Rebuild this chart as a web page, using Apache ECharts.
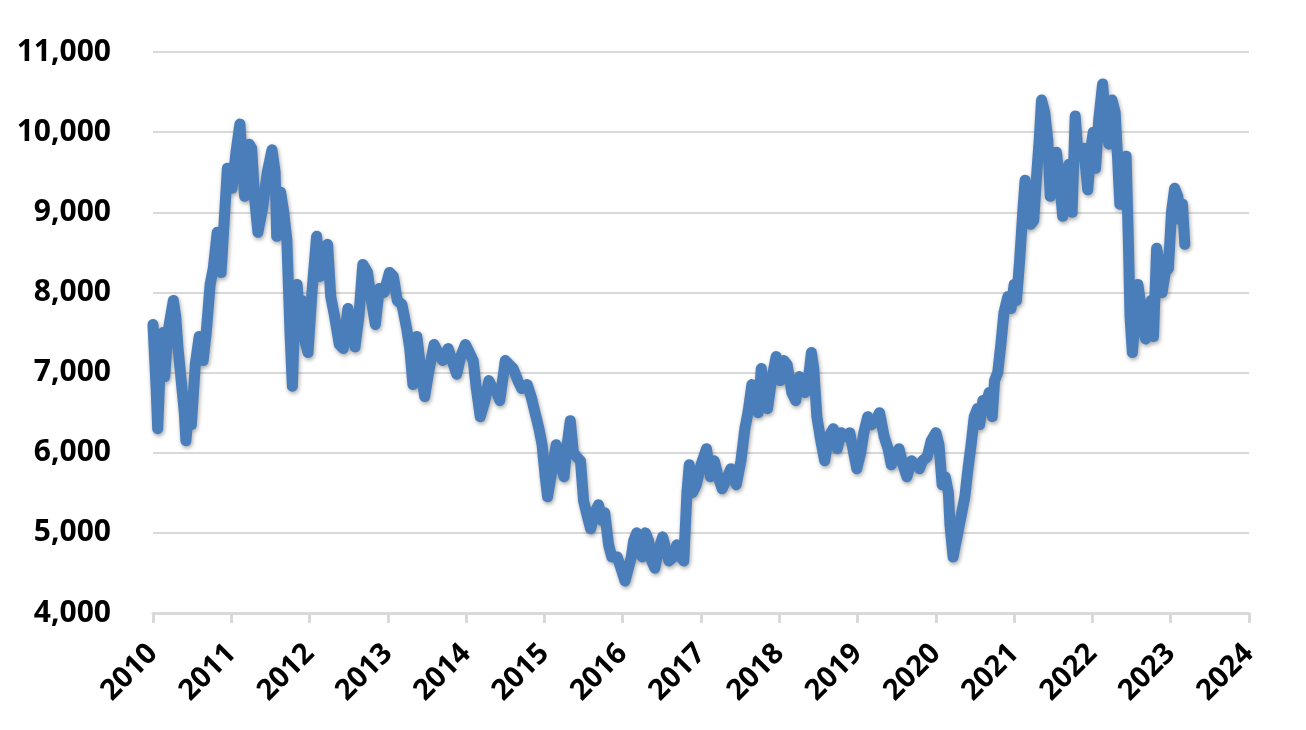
<!DOCTYPE html>
<html>
<head>
<meta charset="utf-8">
<script src="https://cdn.jsdelivr.net/npm/echarts@6/dist/echarts.min.js"></script>
<style>
html,body{margin:0;padding:0;background:#fff;}
#chart{width:1306px;height:730px;}
</style>
</head>
<body>
<div id="chart"></div>
<script>
// [decimal year, price]
const prices2010_2011 = [
[2010.00,7600],[2010.04,6800],[2010.06,6300],[2010.10,7300],[2010.13,7500],[2010.15,6950],[2010.19,7500],[2010.26,7900],[2010.29,7700],[2010.32,7300],[2010.36,6900],[2010.40,6500],[2010.42,6150],[2010.46,6600],[2010.49,6350],[2010.54,7100],[2010.59,7450],[2010.64,7150],[2010.68,7500],[2010.73,8100],[2010.77,8300],[2010.82,8750],[2010.87,8250],[2010.91,8900],[2010.95,9550],
[2011.01,9300],[2011.06,9750],[2011.11,10100],[2011.17,9200],[2011.23,9850],[2011.26,9800],[2011.30,9150],[2011.34,8750],[2011.40,9050],[2011.46,9500],[2011.52,9780],[2011.56,9500],[2011.58,8700],[2011.63,9250],[2011.67,9000],[2011.71,8650],[2011.75,7500],[2011.78,6830],[2011.81,7700],[2011.84,8100],[2011.88,7600],[2011.90,7900],[2011.94,7400],[2011.98,7250]
];
const prices2012_2013 = [
[2012.03,8000],[2012.09,8700],[2012.13,8200],[2012.18,8550],[2012.23,8600],[2012.27,7950],[2012.32,7700],[2012.38,7350],[2012.43,7300],[2012.49,7800],[2012.54,7600],[2012.58,7320],[2012.63,7700],[2012.68,8350],[2012.74,8250],[2012.79,7900],[2012.84,7600],[2012.89,8050],[2012.95,8000],
[2013.02,8250],[2013.07,8200],[2013.12,7900],[2013.18,7850],[2013.24,7550],[2013.28,7300],[2013.32,6850],[2013.37,7450],[2013.42,7050],[2013.47,6700],[2013.52,7000],[2013.59,7350],[2013.64,7250],[2013.70,7150],[2013.77,7300],[2013.82,7150],[2013.88,6980],[2013.93,7200],[2013.99,7350]
];
const prices2014_2015 = [
[2014.04,7250],[2014.09,7150],[2014.13,6800],[2014.18,6450],[2014.24,6650],[2014.29,6900],[2014.34,6800],[2014.39,6750],[2014.43,6650],[2014.50,7150],[2014.55,7100],[2014.60,7050],[2014.66,6900],[2014.71,6800],[2014.78,6850],[2014.83,6700],[2014.88,6500],[2014.93,6300],[2014.97,6100],
[2015.01,5700],[2015.04,5450],[2015.10,5800],[2015.15,6100],[2015.19,6000],[2015.22,5800],[2015.25,5700],[2015.29,6100],[2015.33,6400],[2015.37,6000],[2015.41,5950],[2015.46,5900],[2015.50,5400],[2015.55,5200],[2015.59,5050],[2015.64,5250],[2015.69,5350],[2015.74,5150],[2015.77,5250],[2015.82,4850],[2015.86,4700],[2015.93,4700],[2015.98,4550]
];
const prices2016_2017 = [
[2016.03,4400],[2016.07,4550],[2016.11,4700],[2016.14,4900],[2016.18,5000],[2016.22,4750],[2016.25,4700],[2016.29,5000],[2016.33,4900],[2016.37,4650],[2016.41,4560],[2016.46,4800],[2016.51,4950],[2016.55,4800],[2016.59,4650],[2016.65,4700],[2016.69,4850],[2016.74,4700],[2016.78,4650],[2016.82,5500],[2016.85,5850],[2016.89,5500],[2016.94,5600],
[2017.00,5850],[2017.07,6050],[2017.12,5700],[2017.17,5900],[2017.22,5700],[2017.27,5550],[2017.34,5700],[2017.38,5800],[2017.45,5600],[2017.51,5900],[2017.56,6300],[2017.60,6500],[2017.65,6850],[2017.69,6600],[2017.73,6500],[2017.77,7050],[2017.81,6650],[2017.85,6550],[2017.90,6900],[2017.96,7200]
];
const prices2018_2019 = [
[2018.01,6900],[2018.06,7150],[2018.10,7100],[2018.16,6750],[2018.21,6650],[2018.26,6950],[2018.33,6750],[2018.37,6900],[2018.41,7250],[2018.44,7050],[2018.48,6450],[2018.53,6150],[2018.58,5900],[2018.63,6200],[2018.69,6300],[2018.74,6050],[2018.79,6250],[2018.85,6200],[2018.90,6250],[2018.95,6000],[2018.99,5800],
[2019.04,6000],[2019.08,6250],[2019.13,6450],[2019.18,6350],[2019.23,6400],[2019.28,6500],[2019.34,6200],[2019.39,6050],[2019.43,5850],[2019.48,5950],[2019.53,6050],[2019.58,5850],[2019.63,5700],[2019.69,5900],[2019.74,5850],[2019.79,5800],[2019.83,5900],[2019.89,5950],[2019.94,6150]
];
const prices2020_2021 = [
[2020.00,6250],[2020.04,6100],[2020.08,5600],[2020.12,5700],[2020.16,5500],[2020.18,5100],[2020.22,4700],[2020.26,4900],[2020.30,5100],[2020.33,5250],[2020.37,5450],[2020.41,5800],[2020.45,6100],[2020.49,6450],[2020.53,6550],[2020.56,6350],[2020.60,6650],[2020.64,6600],[2020.68,6750],[2020.72,6450],[2020.75,6900],[2020.79,7000],[2020.83,7350],[2020.87,7750],[2020.92,7950],[2020.96,7800],
[2021.00,8100],[2021.03,7900],[2021.07,8400],[2021.11,9000],[2021.14,9400],[2021.18,9200],[2021.21,8850],[2021.25,8900],[2021.29,9500],[2021.32,9900],[2021.35,10400],[2021.39,10250],[2021.43,9900],[2021.46,9200],[2021.49,9600],[2021.54,9750],[2021.58,9400],[2021.62,8950],[2021.66,9450],[2021.70,9600],[2021.74,9000],[2021.78,10200],[2021.81,9800],[2021.85,9700],[2021.89,9800],[2021.94,9280],[2021.98,9800]
];
const prices2022_2023 = [
[2022.01,10000],[2022.04,9550],[2022.08,10150],[2022.13,10600],[2022.17,10100],[2022.21,9850],[2022.25,10400],[2022.29,10250],[2022.32,9700],[2022.35,9100],[2022.40,9450],[2022.43,9700],[2022.46,8600],[2022.48,7700],[2022.51,7250],[2022.54,7600],[2022.58,8100],[2022.61,7900],[2022.64,7550],[2022.68,7420],[2022.72,7550],[2022.75,7900],[2022.78,7450],[2022.82,8550],[2022.85,8400],[2022.89,8000],[2022.93,8250],[2022.97,8300],
[2023.01,9000],[2023.05,9300],[2023.09,9200],[2023.13,8900],[2023.15,9100],[2023.18,8600]
];
const yTicks = [4000, 5000, 6000, 7000, 8000, 9000, 10000, 11000];
const xTicks = [2010, 2011, 2012, 2013, 2014, 2015, 2016, 2017, 2018, 2019, 2020, 2021, 2022, 2023, 2024];

const series = [].concat(prices2010_2011, prices2012_2013, prices2014_2015, prices2016_2017, prices2018_2019, prices2020_2021, prices2022_2023);

const chart = echarts.init(document.getElementById('chart'), null, {renderer: 'canvas'});
const font = '"Open Sans", "Liberation Sans", sans-serif';
chart.setOption({
  animation: false,
  backgroundColor: '#ffffff',
  grid: {left: 153, right: 57, top: 52, bottom: 117, containLabel: false},
  xAxis: {
    type: 'value',
    min: xTicks[0], max: xTicks[xTicks.length - 1], interval: 1,
    axisLine: {show: true, lineStyle: {color: '#d9d9d9', width: 3}},
    axisTick: {show: true, length: 10, lineStyle: {color: '#d9d9d9', width: 3}},
    splitLine: {show: false},
    axisLabel: {
      rotate: 45, margin: 36, color: '#000', fontWeight: 'bold', fontSize: 29, fontFamily: font,
      formatter: v => String(Math.round(v))
    }
  },
  yAxis: {
    type: 'value',
    min: yTicks[0], max: yTicks[yTicks.length - 1], interval: 1000,
    axisLine: {show: false}, axisTick: {show: false},
    splitLine: {show: true, lineStyle: {color: '#d9d9d9', width: 2}},
    axisLabel: {
      margin: 42, color: '#000', fontWeight: 'bold', fontSize: 30, fontFamily: font,
      formatter: v => v.toLocaleString('en-US')
    }
  },
  series: [{
    type: 'line',
    data: series,
    showSymbol: false,
    smooth: false,
    lineStyle: {
      color: '#4a7ebb', width: 11, cap: 'round', join: 'round',
      shadowColor: 'rgba(0,0,0,0.35)', shadowBlur: 4, shadowOffsetX: 1, shadowOffsetY: 2
    }
  }]
});
</script>
</body>
</html>
